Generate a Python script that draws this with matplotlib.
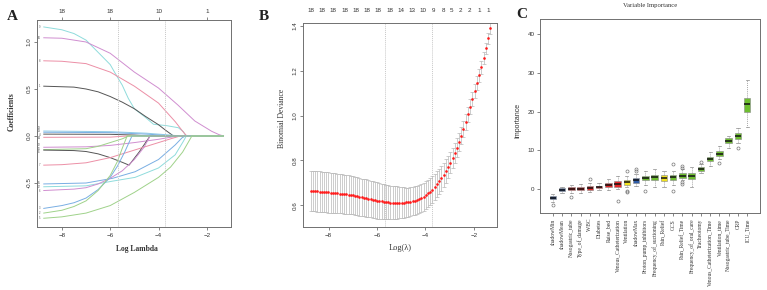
import numpy as np
import matplotlib.pyplot as plt

plt.rcParams['font.family'] = 'Liberation Sans'
SERIF = 'Liberation Serif'
FRAME = '#707070'

# ---------------- Panel A: LASSO coefficient paths ----------------
# each path: knots (log lambda, coefficient)
coef_paths = [
    [(-8.75, 1.16), (-8.0, 1.13), (-7.5, 1.09), (-7.0, 1.02), (-6.5, 0.89), (-6.0, 0.76), (-5.8, 0.67),
     (-5.5, 0.54), (-5.25, 0.40), (-5.0, 0.29), (-4.55, 0.20), (-4.21, 0.125), (-3.66, 0.11),
     (-3.18, 0.088), (-2.97, 0.046), (-2.87, 0.0), (-1.31, 0.0)],
    [(-8.75, 1.045), (-8.0, 1.04), (-7.0, 1.0), (-6.0, 0.88), (-5.0, 0.68), (-4.0, 0.51), (-3.2, 0.33),
     (-2.5, 0.16), (-1.8, 0.05), (-1.5, 0.015), (-1.31, 0.0)],
    [(-8.75, 0.80), (-8.0, 0.795), (-7.0, 0.77), (-6.0, 0.68), (-5.0, 0.53), (-4.0, 0.35), (-3.3, 0.15),
     (-3.0, 0.05), (-2.83, 0.0), (-1.31, 0.0)],
    [(-8.75, 0.53), (-7.5, 0.52), (-7.0, 0.50), (-6.5, 0.47), (-6.0, 0.42), (-5.5, 0.36), (-5.0, 0.29),
     (-4.55, 0.21), (-4.0, 0.12), (-3.7, 0.06), (-3.38, 0.0), (-1.31, 0.0)],
    [(-8.75, 0.053), (-6.0, 0.046), (-4.5, 0.03), (-3.5, 0.01), (-3.1, 0.0), (-1.31, 0.0)],
    [(-8.75, 0.04), (-6.0, 0.036), (-4.5, 0.02), (-3.3, 0.0), (-1.31, 0.0)],
    [(-8.75, 0.02), (-6.0, 0.018), (-5.0, 0.01), (-4.4, 0.0), (-1.31, 0.0)],
    [(-8.75, -0.014), (-6.0, -0.012), (-5.3, 0.0), (-1.31, 0.0)],
    [(-8.75, -0.12), (-7.0, -0.115), (-6.0, -0.10), (-5.0, -0.07), (-4.0, -0.035), (-3.2, 0.0), (-1.31, 0.0)],
    [(-8.75, -0.145), (-7.0, -0.135), (-6.5, -0.11), (-6.0, -0.07), (-5.5, -0.03), (-5.24, 0.0), (-1.31, 0.0)],
    [(-8.75, -0.15), (-7.5, -0.155), (-7.0, -0.165), (-6.5, -0.19), (-6.0, -0.23), (-5.5, -0.28),
     (-5.22, -0.31), (-4.8, -0.17), (-4.35, 0.0), (-1.31, 0.0)],
    [(-8.75, -0.31), (-8.0, -0.305), (-7.0, -0.285), (-6.0, -0.23), (-5.0, -0.15), (-4.0, -0.07),
     (-3.5, -0.03), (-3.1, 0.0), (-1.31, 0.0)],
    [(-8.75, -0.51), (-7.0, -0.50), (-5.9, -0.45), (-4.97, -0.38), (-4.0, -0.25), (-3.31, -0.095),
     (-3.03, -0.02), (-2.89, 0.0), (-1.31, 0.0)],
    [(-8.75, -0.54), (-7.0, -0.53), (-5.9, -0.48), (-4.97, -0.44), (-4.0, -0.34), (-3.31, -0.20),
     (-2.98, -0.06), (-2.85, 0.0), (-1.31, 0.0)],
    [(-8.75, -0.58), (-7.5, -0.565), (-7.0, -0.55), (-6.5, -0.51), (-6.0, -0.45), (-5.5, -0.37),
     (-5.0, -0.25), (-4.6, -0.12), (-4.35, 0.0), (-1.31, 0.0)],
    [(-8.75, -0.77), (-8.0, -0.74), (-7.5, -0.71), (-7.0, -0.66), (-6.5, -0.57), (-6.0, -0.44),
     (-5.7, -0.32), (-5.4, -0.17), (-5.1, 0.0), (-1.31, 0.0)],
    [(-8.75, -0.82), (-8.0, -0.79), (-7.5, -0.75), (-7.0, -0.69), (-6.5, -0.58), (-6.0, -0.42),
     (-5.7, -0.27), (-5.5, -0.13), (-5.3, 0.0), (-1.31, 0.0)],
    [(-8.75, -0.875), (-8.0, -0.86), (-7.0, -0.82), (-6.0, -0.74), (-5.0, -0.60), (-4.0, -0.44),
     (-3.5, -0.33), (-3.0, -0.17), (-2.62, 0.0), (-1.31, 0.0)],
]
coef_ids = ['9', '10', '8', '1', '18', '13', '4', '14', '12', '16', '11', '7', '15', '17', '6', '3', '2', '5']
# where the small variable numbers sit at the left edge (spread a little so they do not collide)
coef_id_y = [1.16, 1.045, 0.80, 0.53, 0.085, 0.05, 0.015, -0.02, -0.10, -0.135, -0.17, -0.31,
             -0.50, -0.54, -0.58, -0.77, -0.82, -0.875]
coef_colors = ['#8fdcdc', '#d08ed0', '#ec8fa6', '#555555', '#90cbe6', '#79aee3', '#555555', '#ec8fa6',
               '#d08ed0', '#9fd28a', '#555555', '#ec8fa6', '#79aee3', '#8fdcdc', '#d08ed0', '#79aee3',
               '#9fd28a', '#9fd28a']
topA_ticks = [-8, -6, -4, -2]
topA_labels = ['18', '18', '10', '1']

lambda_min_log = -5.67
lambda_1se_log = -3.73

# ---------------- Panel B: cross-validation curve ----------------
log_lambda = [-8.74, -8.65, -8.56, -8.47, -8.37, -8.28, -8.19, -8.10, -8.01, -7.92,
              -7.83, -7.73, -7.64, -7.55, -7.46, -7.37, -7.28, -7.18, -7.09, -7.00,
              -6.91, -6.82, -6.73, -6.64, -6.54, -6.45, -6.36, -6.27, -6.18, -6.09,
              -5.99, -5.90, -5.81, -5.72, -5.63, -5.54, -5.45, -5.35, -5.26, -5.17,
              -5.08, -4.99, -4.90, -4.80, -4.71, -4.62, -4.53, -4.44, -4.35, -4.26,
              -4.17, -4.07, -3.98, -3.89, -3.80, -3.71, -3.62, -3.52, -3.43, -3.34,
              -3.25, -3.16, -3.07, -2.98, -2.88, -2.79, -2.70, -2.61, -2.52, -2.43,
              -2.34, -2.24, -2.15, -2.06, -1.97, -1.88, -1.79, -1.69, -1.60, -1.51,
              -1.42, -1.33]
cv_mean = [0.665, 0.664, 0.663, 0.662, 0.661, 0.660, 0.659, 0.658, 0.657, 0.656,
           0.655, 0.654, 0.653, 0.652, 0.651, 0.650, 0.648, 0.647, 0.645, 0.644,
           0.642, 0.640, 0.638, 0.636, 0.634, 0.632, 0.630, 0.628, 0.625, 0.623,
           0.621, 0.619, 0.617, 0.615, 0.614, 0.613, 0.612, 0.612, 0.612, 0.612,
           0.612, 0.612, 0.612, 0.613, 0.614, 0.616, 0.618, 0.621, 0.624, 0.628,
           0.633, 0.638, 0.645, 0.653, 0.661, 0.670, 0.681, 0.693, 0.706, 0.720,
           0.736, 0.753, 0.771, 0.790, 0.810, 0.833, 0.857, 0.883, 0.910, 0.940,
           0.972, 1.006, 1.040, 1.075, 1.110, 1.145, 1.180, 1.215, 1.258, 1.300,
           1.345, 1.390]
cv_se = [0.090, 0.090, 0.090, 0.090, 0.090, 0.090, 0.090, 0.090, 0.090, 0.090,
         0.089, 0.089, 0.088, 0.088, 0.087, 0.087, 0.086, 0.086, 0.085, 0.085,
         0.084, 0.084, 0.084, 0.083, 0.083, 0.083, 0.082, 0.082, 0.082, 0.082,
         0.081, 0.080, 0.079, 0.078, 0.077, 0.076, 0.075, 0.074, 0.073, 0.072,
         0.071, 0.070, 0.068, 0.066, 0.065, 0.064, 0.063, 0.063, 0.062, 0.062,
         0.062, 0.062, 0.061, 0.061, 0.060, 0.060, 0.059, 0.058, 0.057, 0.056,
         0.054, 0.052, 0.050, 0.048, 0.046, 0.044, 0.042, 0.040, 0.038, 0.036,
         0.035, 0.034, 0.033, 0.032, 0.031, 0.030, 0.029, 0.028, 0.027, 0.026,
         0.025, 0.025]
topB_pos = [-8.74, -8.29, -7.82, -7.34, -6.89, -6.42, -5.96, -5.48, -5.03, -4.56,
            -4.09, -3.65, -3.27, -2.91, -2.54, -2.18, -1.79, -1.41]
topB_labels = ['18', '18', '18', '18', '18', '18', '18', '18', '14', '13',
               '10', '9', '8', '5', '2', '2', '1', '1']

# ---------------- Panel C: Boruta variable importance ----------------
var_names = ['shadowMin', 'shadowMean', 'Nasogastric_tube', 'Type_of_damage', 'WBC', 'Diabetes',
             'Raise_bed', 'Venous_Catheterization', 'Ventilation', 'shadowMax',
             'Proton_pump_inhibitors', 'Frequency_of_suctioning', 'Pain_Relief', 'GCS',
             'Pain_Relief_Time', 'Frequency_of_oral_care', 'Tracheotomy',
             'Venous_Catheterization_Time', 'Ventilation_time', 'Nasogastric_tube_Time', 'CRP', 'ICU_Time']
var_status = ['shadow', 'shadow', 'rejected', 'rejected', 'rejected', 'rejected', 'rejected', 'rejected',
              'tentative', 'shadow', 'confirmed', 'confirmed', 'tentative', 'confirmed', 'confirmed',
              'confirmed', 'confirmed', 'confirmed', 'confirmed', 'confirmed', 'confirmed', 'confirmed']
imp_med = [-2.2, -0.1, 0.15, 0.1, 0.35, 0.5, 1.1, 1.4, 1.8, 2.4, 3.0, 3.1, 3.0, 3.2, 3.5, 3.4, 5.3, 7.9,
           9.1, 12.5, 13.7, 22.0]
imp_q1 = [-2.6, -0.4, -0.3, -0.3, -0.15, 0.2, 0.5, 0.7, 1.2, 1.7, 2.4, 2.4, 2.0, 2.5, 3.0, 2.6, 4.8, 7.3,
          8.6, 12.0, 13.0, 20.0]
imp_q3 = [-1.8, 0.2, 0.6, 0.5, 0.8, 0.8, 1.7, 2.1, 2.3, 3.0, 3.5, 3.8, 3.7, 3.7, 4.1, 4.1, 5.8, 8.4,
          9.8, 13.1, 14.4, 23.4]
imp_lo = [-3.4, -0.9, -0.9, -1.0, -0.7, -0.2, -0.2, 0.0, 0.6, 0.9, 1.0, 0.7, 0.7, 1.0, 2.3, 0.7, 4.2, 6.0,
          7.9, 10.7, 12.0, 16.0]
imp_hi = [-1.1, 0.7, 1.2, 1.4, 1.7, 1.5, 2.6, 3.5, 3.3, 4.0, 4.8, 5.1, 4.6, 4.7, 5.1, 5.7, 6.4, 9.6,
          11.2, 13.7, 15.9, 28.1]
imp_fliers = [[-4.1], [], [-2.0], [], [2.7], [], [], [-3.0], [4.8, -0.5, -0.8], [4.6, 5.2], [-0.4], [], [],
              [6.5, -0.4], [5.6, 6.1, 1.9, 1.4], [], [7.1], [], [6.7], [], [10.6], []]
status_colors = {'shadow': '#2f5da8', 'rejected': '#e8282a', 'tentative': '#f2e31e', 'confirmed': '#6dbe2f'}


def style_axes(ax):
    for s in ax.spines.values():
        s.set_color(FRAME)
        s.set_linewidth(0.7)
    ax.tick_params(direction='out', length=2.5, width=0.6, color=FRAME, labelsize=4.5,
                   labelcolor='#333333', pad=1.5)


fig = plt.figure(figsize=(7.67, 2.90), dpi=100)
W, H = 767.0, 290.0


def add_ax(l, t, r, b):
    return fig.add_axes([l / W, 1 - b / H, (r - l) / W, (b - t) / H])


# ---- A ----
axA = add_ax(37, 20, 231, 227)
for path, col in zip(coef_paths, coef_colors):
    xs, ys = zip(*path)
    axA.plot(xs, ys, color=col, lw=0.7)
for yl, lab in zip(coef_id_y, coef_ids):
    axA.text(-8.93, yl, lab, fontsize=1.9, color='#555555', ha='center', va='center')
for v in (lambda_min_log, lambda_1se_log):
    axA.axvline(v, color='#c8c8c8', lw=0.7, ls=(0, (1, 1)))
axA.set_xlim(-9.03, -1.0)
axA.set_ylim(-0.968, 1.234)
axA.set_xticks([-8, -6, -4, -2])
axA.set_yticks([-0.5, 0.0, 0.5, 1.0])
axA.set_yticklabels(['-0.5', '0.0', '0.5', '1.0'], rotation=90, va='center')
style_axes(axA)
topA = axA.secondary_xaxis('top')
topA.set_xticks(topA_ticks)
topA.set_xticklabels(topA_labels)
topA.tick_params(direction='out', length=2.5, width=0.6, color=FRAME, labelsize=4.5,
                 labelcolor='#333333', pad=1.5)
topA.spines['top'].set_visible(False)
fig.text(137 / W, 1 - 249 / H, 'Log Lambda', fontfamily=SERIF, fontweight='bold', fontsize=5.5,
         ha='center', va='center', color='#333333')
fig.text(12 / W, 1 - 112 / H, 'Coefficients', fontfamily=SERIF, fontweight='bold', fontsize=5.5,
         ha='center', va='center', rotation=90, color='#333333')
fig.text(12 / W, 1 - 16 / H, 'A', fontfamily=SERIF, fontweight='bold', fontsize=11,
         ha='center', va='center', color='#222222')

# ---- B ----
axB = add_ax(303.3, 23, 497.3, 227)
for v in (lambda_min_log, lambda_1se_log):
    axB.axvline(v, color='#c8c8c8', lw=0.7, ls=(0, (1, 1)))
axB.errorbar(log_lambda, cv_mean, yerr=cv_se, fmt='none', ecolor='#b8b8b8', elinewidth=0.5,
             capsize=1.3, capthick=0.5)
axB.plot(log_lambda, cv_mean, 'o', color='#ff1a1a', ms=1.9, mew=0)
axB.set_xlim(-9.05, -1.03)
axB.set_ylim(0.503, 1.413)
axB.set_xticks([-8, -6, -4, -2])
axB.set_yticks([0.6, 0.8, 1.0, 1.2, 1.4])
axB.set_yticklabels(['0.6', '0.8', '1.0', '1.2', '1.4'], rotation=90, va='center')
style_axes(axB)
for p, lab in zip(topB_pos, topB_labels):
    axB.text(p, 1.0 + 13 / 204, lab, transform=axB.get_xaxis_transform(), fontsize=4.5,
             ha='center', va='center', color='#333333')
fig.text(400 / W, 1 - 248 / H, 'Log(\u03bb)', fontfamily=SERIF, fontsize=6,
         ha='center', va='center', color='#333333')
fig.text(282 / W, 1 - 118 / H, 'Binomial Deviance', fontfamily=SERIF, fontsize=5.5,
         ha='center', va='center', rotation=90, color='#333333')
fig.text(264 / W, 1 - 16 / H, 'B', fontfamily=SERIF, fontweight='bold', fontsize=11,
         ha='center', va='center', color='#222222')

# ---- C ----
axC = add_ax(540, 19.3, 760, 213.3)
stats = []
for i in range(len(var_names)):
    stats.append(dict(med=imp_med[i], q1=imp_q1[i], q3=imp_q3[i], whislo=imp_lo[i],
                      whishi=imp_hi[i], fliers=imp_fliers[i]))
pos = np.arange(1, len(var_names) + 1)
bp = axC.bxp(stats, positions=pos, widths=0.7, patch_artist=True,
             boxprops=dict(edgecolor='#888888', linewidth=0.4),
             medianprops=dict(color='#111111', linewidth=1.1),
             whiskerprops=dict(color='#888888', linewidth=0.5, linestyle=(0, (1.5, 1.5))),
             capprops=dict(color='#888888', linewidth=0.5),
             flierprops=dict(marker='o', markersize=2.2, markerfacecolor='none',
                             markeredgecolor='#777777', markeredgewidth=0.5),
             capwidths=0.35)
for patch, st in zip(bp['boxes'], var_status):
    patch.set_facecolor(status_colors[st])
axC.set_xlim(-0.38, 23.38)
axC.set_ylim(-6.2, 43.8)
axC.set_yticks([0, 10, 20, 30, 40])
axC.set_xticks(pos)
axC.set_xticklabels(var_names, rotation=90, fontfamily=SERIF)
style_axes(axC)
axC.tick_params(axis='x', labelsize=4.0, pad=1.5)
fig.text(518 / W, 1 - 120 / H, 'Importance', fontsize=5, ha='center', va='center',
         rotation=90, color='#333333')
fig.text(650 / W, 1 - 6 / H, 'Variable Importance', fontfamily=SERIF, fontsize=4.8,
         ha='center', va='center', color='#333333')
fig.text(522 / W, 1 - 15 / H, 'C', fontfamily=SERIF, fontweight='bold', fontsize=11,
         ha='center', va='center', color='#222222')

fig.savefig('out.png', dpi=100)
